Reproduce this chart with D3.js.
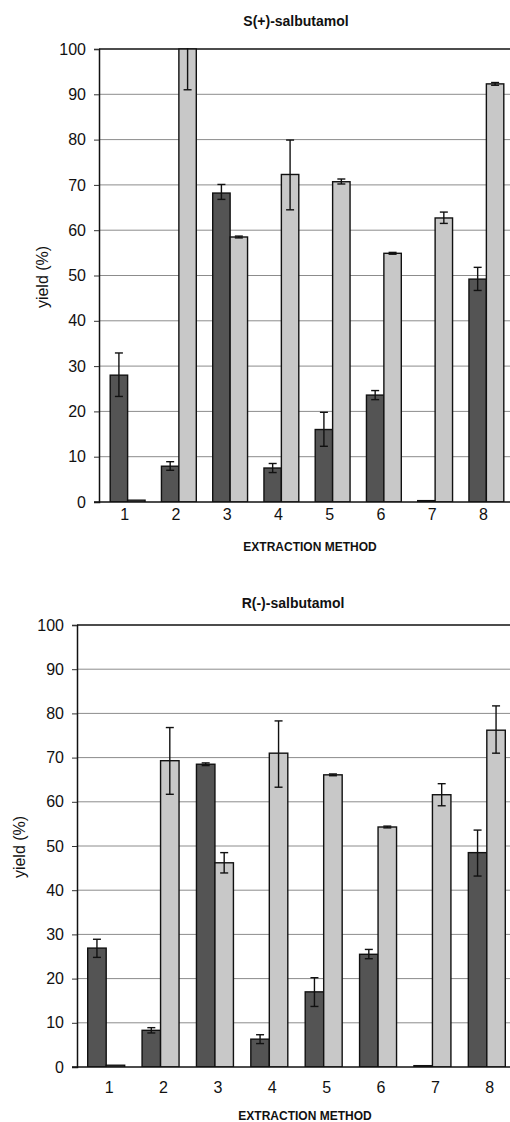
<!DOCTYPE html>
<html>
<head>
<meta charset="utf-8">
<script src="https://cdn.jsdelivr.net/npm/d3@7"></script>
<style>
    body { margin: 0; background: #fff; }
    text { font-family: "Liberation Sans", Arial, sans-serif; fill: #111; }
</style>
</head>
<body>
<svg id="chart" width="510" height="1122"></svg>
<script>
const METHODS = ['1', '2', '3', '4', '5', '6', '7', '8'];
const Y_TICKS = [0, 10, 20, 30, 40, 50, 60, 70, 80, 90, 100];

// S(+)-salbutamol
const S_DARK = [28.0, 7.9, 68.2, 7.5, 16.0, 23.6, 0.3, 49.2];
const S_DARK_LOW = [23.3, 7.0, 66.8, 6.5, 12.3, 22.6, 0.3, 46.7];
const S_DARK_HIGH = [32.9, 8.9, 70.1, 8.5, 19.8, 24.6, 0.3, 51.8];
const S_LIGHT = [0.4, 100, 58.5, 72.3, 70.7, 54.9, 62.7, 92.3];
const S_LIGHT_LOW = [0.4, 91.0, 58.3, 64.5, 70.2, 54.7, 61.5, 92.0];
const S_LIGHT_HIGH = [0.4, 101, 58.7, 79.9, 71.3, 55.1, 64.0, 92.6];

// R(-)-salbutamol
const R_DARK = [26.9, 8.3, 68.5, 6.3, 17.0, 25.5, 0.3, 48.5];
const R_DARK_LOW = [24.8, 7.7, 68.2, 5.3, 13.7, 24.5, 0.3, 43.2];
const R_DARK_HIGH = [28.9, 8.9, 68.8, 7.3, 20.2, 26.6, 0.3, 53.6];
const R_LIGHT = [0.4, 69.3, 46.2, 71.0, 66.1, 54.3, 61.6, 76.2];
const R_LIGHT_LOW = [0.4, 61.7, 43.9, 63.3, 65.9, 54.1, 59.1, 71.0];
const R_LIGHT_HIGH = [0.4, 76.8, 48.5, 78.3, 66.3, 54.5, 64.1, 81.7];

const DARK_FILL = '#545454';
const LIGHT_FILL = '#c8c8c8';

const svg = d3.select('#chart');

function seriesOf(values, low, high, name) {
    return values.map((v, i) => ({ method: METHODS[i], value: v, low: low[i], high: high[i], name }));
}

function drawPanel(panel) {
    const g = svg.append('g').attr('class', panel.id);

    const y = d3.scaleLinear().domain([0, 100]).range([panel.bottom, panel.top]);
    const x = d3.scaleBand().domain(METHODS).range(panel.bandRange).paddingInner(0.32).paddingOuter(0.16);
    const xSub = d3.scaleBand().domain(['dark', 'light']).range([0, x.bandwidth()]);

    const clipId = panel.id + '-clip';
    g.append('clipPath').attr('id', clipId)
        .append('rect')
        .attr('x', panel.left).attr('y', panel.top - 1)
        .attr('width', 510 - panel.left).attr('height', panel.bottom - panel.top + 1);

    // gridlines
    g.append('g')
        .selectAll('line')
        .data(Y_TICKS.filter(t => t > 0 && t < 100))
        .join('line')
        .attr('x1', panel.left).attr('x2', 510)
        .attr('y1', d => y(d)).attr('y2', d => y(d))
        .attr('stroke', '#8c8c8c')
        .attr('stroke-width', 1);

    // top frame line
    g.append('line')
        .attr('x1', panel.left).attr('x2', 510)
        .attr('y1', y(100)).attr('y2', y(100))
        .attr('stroke', '#111').attr('stroke-width', 1.5);

    const bars = g.append('g').attr('clip-path', `url(#${clipId})`);
    const data = [...panel.dark, ...panel.light];

    bars.selectAll('rect')
        .data(data)
        .join('rect')
        .attr('x', d => x(d.method) + xSub(d.name))
        .attr('y', d => y(Math.min(d.value, 100)))
        .attr('width', xSub.bandwidth())
        .attr('height', d => y(0) - y(Math.min(d.value, 100)))
        .attr('fill', d => d.name === 'dark' ? DARK_FILL : LIGHT_FILL)
        .attr('stroke', '#111')
        .attr('stroke-width', 1.4);

    const withError = data.filter(d => d.high - d.low > 0.05);
    const cx = d => x(d.method) + xSub(d.name) + xSub.bandwidth() / 2;
    const cap = 4;

    const err = bars.append('g')
        .attr('stroke', '#111')
        .attr('stroke-width', 1.4)
        .selectAll('g')
        .data(withError)
        .join('g');
    err.append('line')
        .attr('x1', cx).attr('x2', cx)
        .attr('y1', d => y(d.low)).attr('y2', d => y(d.high));
    err.append('line')
        .attr('x1', d => cx(d) - cap).attr('x2', d => cx(d) + cap)
        .attr('y1', d => y(d.low)).attr('y2', d => y(d.low));
    err.append('line')
        .attr('x1', d => cx(d) - cap).attr('x2', d => cx(d) + cap)
        .attr('y1', d => y(d.high)).attr('y2', d => y(d.high));

    // y axis
    const yAxis = g.append('g')
        .attr('transform', `translate(${panel.left},0)`)
        .call(d3.axisLeft(y).tickValues(Y_TICKS).tickSize(5).tickPadding(8));
    yAxis.select('.domain').attr('stroke', '#111').attr('stroke-width', 1.5);
    yAxis.selectAll('.tick line').attr('stroke', '#333');
    yAxis.selectAll('.tick text')
        .attr('font-size', 16)
        .attr('font-family', '"Liberation Sans", Arial, sans-serif')
        .attr('fill', '#111');

    // x axis
    g.append('line')
        .attr('x1', panel.left - 5).attr('x2', 510)
        .attr('y1', y(0)).attr('y2', y(0))
        .attr('stroke', '#111').attr('stroke-width', 1.6);

    g.append('g')
        .selectAll('text')
        .data(METHODS)
        .join('text')
        .attr('x', d => x(d) + x.bandwidth() / 2 + panel.labelShift)
        .attr('y', y(0) + panel.labelDrop)
        .attr('text-anchor', 'middle')
        .attr('font-size', 16)
        .text(d => d);

    g.append('text')
        .attr('x', panel.titleX).attr('y', panel.titleY)
        .attr('text-anchor', 'middle')
        .attr('font-size', 14).attr('font-weight', 'bold')
        .text(panel.title);

    g.append('text')
        .attr('x', panel.xTitleX).attr('y', panel.xTitleY)
        .attr('text-anchor', 'middle')
        .attr('font-size', 12).attr('font-weight', 'bold')
        .text('EXTRACTION METHOD');

    g.append('text')
        .attr('transform', `translate(${panel.yTitleX},${panel.yTitleY}) rotate(-90)`)
        .attr('text-anchor', 'middle')
        .attr('font-size', 16)
        .text('yield (%)');
}

drawPanel({
    id: 's-panel',
    title: 'S(+)-salbutamol',
    left: 99, top: 49, bottom: 502,
    bandRange: [102, 512],
    labelShift: -3, labelDrop: 18,
    titleX: 296, titleY: 26,
    xTitleX: 310, xTitleY: 551,
    yTitleX: 48, yTitleY: 277,
    dark: seriesOf(S_DARK, S_DARK_LOW, S_DARK_HIGH, 'dark'),
    light: seriesOf(S_LIGHT, S_LIGHT_LOW, S_LIGHT_HIGH, 'light')
});

drawPanel({
    id: 'r-panel',
    title: 'R(-)-salbutamol',
    left: 77, top: 625, bottom: 1067,
    bandRange: [79, 514],
    labelShift: 3, labelDrop: 26,
    titleX: 293, titleY: 608,
    xTitleX: 305, xTitleY: 1120,
    yTitleX: 25, yTitleY: 847,
    dark: seriesOf(R_DARK, R_DARK_LOW, R_DARK_HIGH, 'dark'),
    light: seriesOf(R_LIGHT, R_LIGHT_LOW, R_LIGHT_HIGH, 'light')
});
</script>
</body>
</html>
